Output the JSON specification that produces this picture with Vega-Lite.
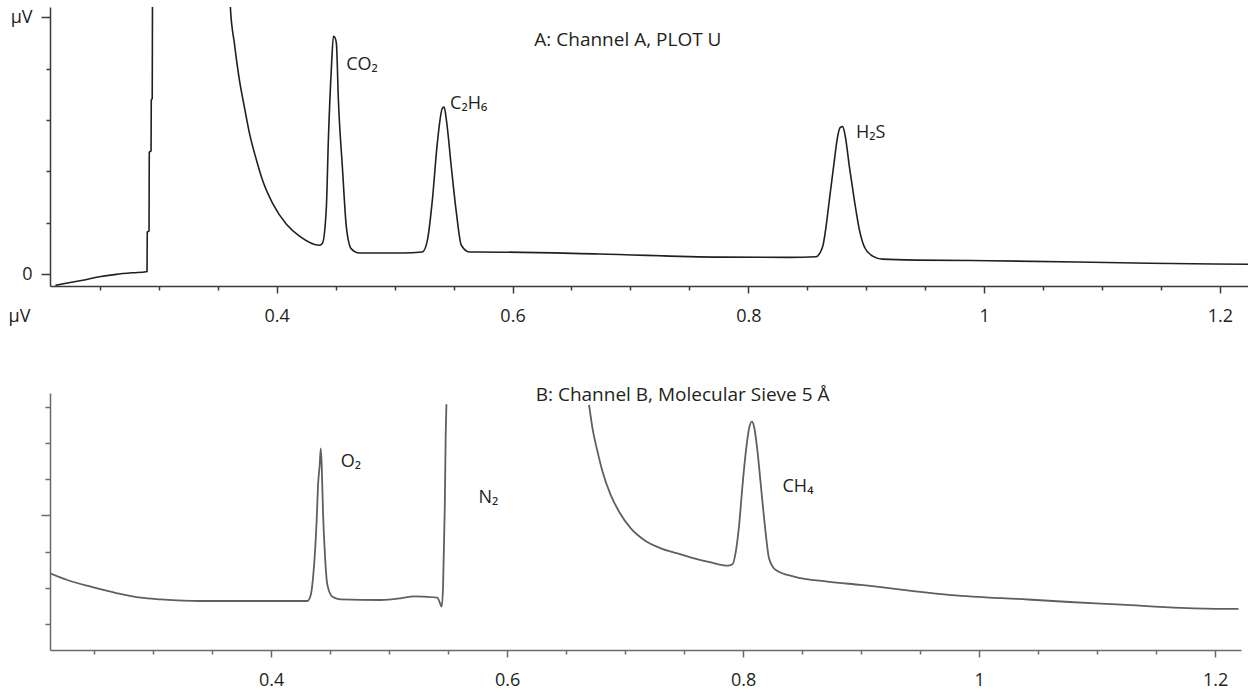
{
  "$schema": "https://vega.github.io/schema/vega-lite/v6.json",
  "padding": {"left": 8, "top": 7, "right": 0, "bottom": 0},
  "background": "white",
  "config": {
    "view": {"stroke": null},
    "font": "Open Sans",
    "axis": {"labelFont": "Open Sans", "labelFontSize": 18, "labelColor": "#231f20", "domainColor": "#3a3a3a", "tickColor": "#3a3a3a", "grid": false, "domainWidth": 1.5, "tickWidth": 1.5, "titleFont": "Open Sans", "titleFontWeight": "normal", "titleFontSize": 18, "titleColor": "#231f20"},
    "text": {"font": "Open Sans", "fontSize": 18, "color": "#231f20"}
  },
  "datasets": {
    "A": [
      {"t":0.2123,"v":-0.22},{"t":0.2214,"v":-0.18},{"t":0.2355,"v":-0.12},{"t":0.2496,"v":-0.052},{"t":0.2638,"v":-0.006},{"t":0.2779,"v":0.025},{"t":0.2892,"v":0.045},{"t":0.2900,"v":0.05},{"t":0.2902,"v":0.82},{"t":0.2917,"v":0.84},{"t":0.2919,"v":2.37},{"t":0.2934,"v":2.40},{"t":0.2936,"v":3.39},{"t":0.2944,"v":3.42},{"t":0.2946,"v":5.19},{"t":0.2960,"v":12},{"t":0.3550,"v":12},{"t":0.3607,"v":5.19},{"t":0.3641,"v":4.49},{"t":0.3684,"v":3.77},{"t":0.3726,"v":3.25},{"t":0.3769,"v":2.74},{"t":0.3828,"v":2.22},{"t":0.3879,"v":1.83},{"t":0.3964,"v":1.38},{"t":0.4082,"v":0.97},{"t":0.4193,"v":0.74},{"t":0.4362,"v":0.56},{"t":0.4388,"v":0.60},{"t":0.4421,"v":1.30},{"t":0.4438,"v":2.61},{"t":0.4464,"v":4.03},{"t":0.4481,"v":4.63},{"t":0.4490,"v":4.62},{"t":0.4506,"v":4.49},{"t":0.4523,"v":3.39},{"t":0.4557,"v":2.08},{"t":0.4591,"v":0.91},{"t":0.4633,"v":0.49},{"t":0.4701,"v":0.41},{"t":0.5066,"v":0.41},{"t":0.5236,"v":0.43},{"t":0.5278,"v":0.66},{"t":0.5320,"v":1.44},{"t":0.5362,"v":2.55},{"t":0.5405,"v":3.23},{"t":0.5420,"v":3.25},{"t":0.5439,"v":3.00},{"t":0.5481,"v":2.08},{"t":0.5524,"v":1.19},{"t":0.5566,"v":0.56},{"t":0.5634,"v":0.43},{"t":0.5719,"v":0.43},{"t":0.6736,"v":0.39},{"t":0.7754,"v":0.33},{"t":0.8345,"v":0.325},{"t":0.8573,"v":0.337},{"t":0.8630,"v":0.53},{"t":0.8659,"v":0.92},{"t":0.8687,"v":1.44},{"t":0.8723,"v":2.09},{"t":0.8757,"v":2.67},{"t":0.8778,"v":2.85},{"t":0.8800,"v":2.87},{"t":0.8823,"v":2.67},{"t":0.8857,"v":2.09},{"t":0.8899,"v":1.44},{"t":0.8942,"v":0.86},{"t":0.8984,"v":0.53},{"t":0.9054,"v":0.35},{"t":0.9139,"v":0.29},{"t":0.9422,"v":0.27},{"t":1.0044,"v":0.26},{"t":1.1401,"v":0.21},{"t":1.2238,"v":0.19}
    ],
    "labA": [
      {"t":0.4589,"v":4.07,"label":"CO₂"},
      {"t":0.5470,"v":3.31,"label":"C₂H₆"},
      {"t":0.8913,"v":2.74,"label":"H₂S"}
    ],
    "titleA": [
      {"t":0.6185,"v":4.55,"label":"A: Channel A, PLOT U"}
    ],
    "B": [
      {"seg":1,"t":0.2125,"v":1.40},{"seg":1,"t":0.2272,"v":1.215},{"seg":1,"t":0.2470,"v":1.03},{"seg":1,"t":0.2696,"v":0.848},{"seg":1,"t":0.2894,"v":0.727},{"seg":1,"t":0.3063,"v":0.682},{"seg":1,"t":0.3402,"v":0.635},{"seg":1,"t":0.4081,"v":0.635},{"seg":1,"t":0.4307,"v":0.635},{"seg":1,"t":0.4335,"v":0.80},{"seg":1,"t":0.4354,"v":1.26},{"seg":1,"t":0.4386,"v":2.92},{"seg":1,"t":0.4397,"v":3.84},{"seg":1,"t":0.4411,"v":4.39},{"seg":1,"t":0.4420,"v":4.85},{"seg":1,"t":0.4428,"v":4.39},{"seg":1,"t":0.4439,"v":3.10},{"seg":1,"t":0.4454,"v":2.00},{"seg":1,"t":0.4476,"v":1.08},{"seg":1,"t":0.4519,"v":0.754},{"seg":1,"t":0.4589,"v":0.682},{"seg":1,"t":0.4928,"v":0.663},{"seg":1,"t":0.5098,"v":0.71},{"seg":1,"t":0.5211,"v":0.765},{"seg":1,"t":0.5295,"v":0.754},{"seg":1,"t":0.5409,"v":0.727},{"seg":1,"t":0.5431,"v":0.572},{"seg":1,"t":0.5445,"v":0.478},{"seg":1,"t":0.5457,"v":1.08},{"seg":1,"t":0.5471,"v":3.20},{"seg":1,"t":0.5479,"v":5.22},{"seg":1,"t":0.5485,"v":6.07},
      {"seg":2,"t":0.6694,"v":6.05},{"seg":2,"t":0.6723,"v":5.41},{"seg":2,"t":0.6766,"v":4.76},{"seg":2,"t":0.6808,"v":4.21},{"seg":2,"t":0.6878,"v":3.56},{"seg":2,"t":0.6949,"v":3.10},{"seg":2,"t":0.7048,"v":2.64},{"seg":2,"t":0.7161,"v":2.32},{"seg":2,"t":0.7302,"v":2.09},{"seg":2,"t":0.7444,"v":1.95},{"seg":2,"t":0.7585,"v":1.81},{"seg":2,"t":0.7726,"v":1.70},{"seg":2,"t":0.7868,"v":1.61},{"seg":2,"t":0.7910,"v":1.65},{"seg":2,"t":0.7938,"v":2.00},{"seg":2,"t":0.7966,"v":2.73},{"seg":2,"t":0.7995,"v":3.84},{"seg":2,"t":0.8023,"v":4.76},{"seg":2,"t":0.8051,"v":5.41},{"seg":2,"t":0.8074,"v":5.59},{"seg":2,"t":0.8093,"v":5.45},{"seg":2,"t":0.8122,"v":4.76},{"seg":2,"t":0.8150,"v":3.84},{"seg":2,"t":0.8184,"v":2.73},{"seg":2,"t":0.8220,"v":1.81},{"seg":2,"t":0.8277,"v":1.49},{"seg":2,"t":0.8432,"v":1.31},{"seg":2,"t":0.8716,"v":1.17},{"seg":2,"t":0.8998,"v":1.08},{"seg":2,"t":0.9765,"v":0.80},{"seg":2,"t":1.0414,"v":0.677},{"seg":2,"t":1.0768,"v":0.608},{"seg":2,"t":1.1211,"v":0.533},{"seg":2,"t":1.1711,"v":0.445},{"seg":2,"t":1.2067,"v":0.417},{"seg":2,"t":1.2199,"v":0.417}
    ],
    "labB": [
      {"t":0.4589,"v":4.48,"label":"O₂"},
      {"t":0.5757,"v":3.47,"label":"N₂"},
      {"t":0.8334,"v":3.79,"label":"CH₄"}
    ],
    "titleB": [
      {"t":0.6242,"v":6.33,"label":"B: Channel B, Molecular Sieve 5 Å"}
    ]
  },
  "spacing": 60,
  "vconcat": [
    {
      "width": 1198,
      "height": 279,
      "encoding": {
        "x": {
          "field": "t", "type": "quantitative",
          "scale": {"domain": [0.2077, 1.2238], "nice": false, "zero": false},
          "axis": {
            "values": [0.25,0.3,0.35,0.4,0.45,0.5,0.55,0.6,0.65,0.7,0.75,0.8,0.85,0.9,0.95,1,1.05,1.1,1.15,1.2],
            "labelExpr": "abs(datum.value*5-round(datum.value*5))<0.000001 ? format(datum.value, '~g') : ''",
            "tickSize": {"condition": {"test": "abs(datum.value*5-round(datum.value*5))<0.000001", "value": 7}, "value": 4},
            "labelPadding": 14,
            "title": "µV", "titleX": -42, "titleY": 30, "titleAlign": "left", "titleBaseline": "middle", "titleAngle": 0
          }
        },
        "y": {
          "field": "v", "type": "quantitative",
          "scale": {"domain": [-0.233, 5.2], "nice": false, "zero": false},
          "axis": {
            "values": [0,1,2,3,4,5],
            "labelExpr": "datum.value == 0 ? '0' : (datum.value == 5 ? 'µV' : '')",
            "tickSize": {"condition": {"test": "datum.value == 0 || datum.value == 5", "value": 9}, "value": 4},
            "labelPadding": 9,
            "title": null
          }
        }
      },
      "layer": [
        {"data": {"name": "A"}, "mark": {"type": "line", "color": "#231f20", "strokeWidth": 1.6, "clip": true, "interpolate": "monotone"}},
        {"data": {"name": "labA"}, "mark": {"type": "text", "align": "left", "baseline": "middle"}, "encoding": {"text": {"field": "label"}}},
        {"data": {"name": "titleA"}, "mark": {"type": "text", "align": "left", "baseline": "middle", "fontSize": 19}, "encoding": {"text": {"field": "label"}}}
      ]
    },
    {
      "width": 1191,
      "height": 257,
      "encoding": {
        "x": {
          "field": "t", "type": "quantitative",
          "scale": {"domain": [0.2125, 1.222], "nice": false, "zero": false},
          "axis": {
            "values": [0.25,0.3,0.35,0.4,0.45,0.5,0.55,0.6,0.65,0.7,0.75,0.8,0.85,0.9,0.95,1,1.05,1.1,1.15,1.2],
            "labelExpr": "abs(datum.value*5-round(datum.value*5))<0.000001 ? format(datum.value, '~g') : ''",
            "tickSize": {"condition": {"test": "abs(datum.value*5-round(datum.value*5))<0.000001", "value": 7}, "value": 4},
            "labelPadding": 14,
            "domainColor": "#6a6a6a", "tickColor": "#6a6a6a",
            "title": null
          }
        },
        "y": {
          "field": "v", "type": "quantitative",
          "scale": {"domain": [-0.718, 6.38], "nice": false, "zero": false},
          "axis": {
            "values": [0,1,2,3,4,5,6],
            "labels": false,
            "tickSize": {"condition": {"test": "datum.value == 3", "value": 9}, "value": 5},
            "domainColor": "#6a6a6a", "tickColor": "#6a6a6a",
            "title": null
          }
        }
      },
      "layer": [
        {"data": {"name": "B"}, "mark": {"type": "line", "color": "#5f5f5f", "strokeWidth": 1.8, "clip": true, "interpolate": "monotone"}, "encoding": {"detail": {"field": "seg"}}},
        {"data": {"name": "labB"}, "mark": {"type": "text", "align": "left", "baseline": "middle"}, "encoding": {"text": {"field": "label"}}},
        {"data": {"name": "titleB"}, "mark": {"type": "text", "align": "left", "baseline": "middle", "fontSize": 19}, "encoding": {"text": {"field": "label"}}}
      ]
    }
  ]
}
